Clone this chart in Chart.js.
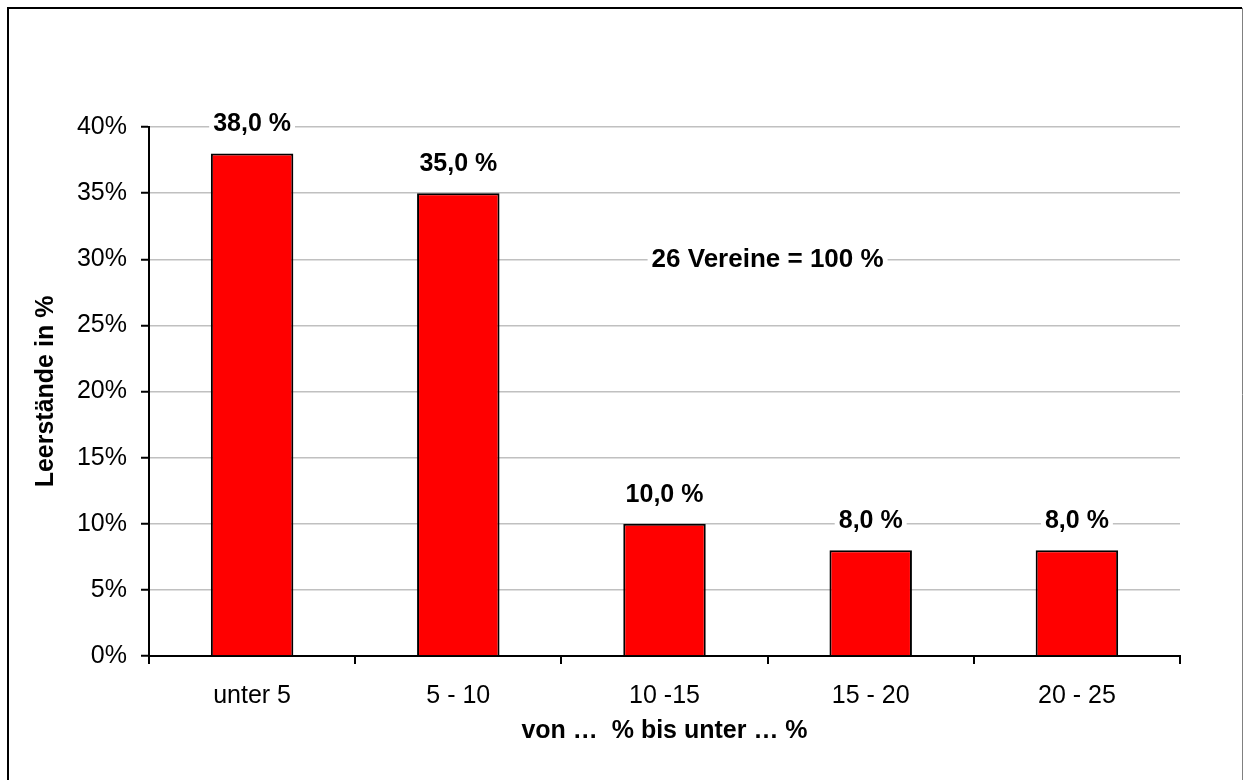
<!DOCTYPE html>
<html>
<head>
<meta charset="utf-8">
<script src="https://cdn.jsdelivr.net/npm/chart.js@4"></script>
<style>
    html, body { margin: 0; padding: 0; background: #fff; }
    #wrap { width: 1243px; height: 780px; }
</style>
</head>
<body>
<div id="wrap"><canvas id="chart" width="1243" height="780"></canvas></div>
<script>
const categories = ["unter 5", "5 - 10", "10 -15", "15 - 20", "20 - 25"]
const shares = [38, 35, 10, 8, 8]
const yTicks = [0, 5, 10, 15, 20, 25, 30, 35, 40]
const note = "26 Vereine = 100 %"
const yTitle = "Leerstände in %"
const xTitle = "von …  % bis unter … %"

const fontFamily = "'Liberation Sans', Arial, sans-serif"
Chart.defaults.color = "#000"
Chart.defaults.font.family = fontFamily

const formatShare = v => v.toFixed(1).replace(".", ",") + " %"

// white box behind a text, so gridlines stop at it
function labelWithBox(ctx, text, x, y) {
    const w = ctx.measureText(text).width
    ctx.fillStyle = "#fff"
    ctx.fillRect(x - w / 2 - 4, y - 11, w + 8, 22)
    ctx.fillStyle = "#000"
    ctx.fillText(text, x, y)
}

const extras = {
    id: "extras",
    afterDatasetsDraw(chart) {
        const ctx = chart.ctx
        const { x, y } = chart.scales
        ctx.save()
        ctx.font = "bold 25px " + fontFamily
        ctx.textAlign = "center"
        ctx.textBaseline = "middle"

        chart.getDatasetMeta(0).data.forEach((bar, i) => {
            labelWithBox(ctx, formatShare(shares[i]), bar.x, bar.y - 29)
        })

        ctx.font = "bold 26px " + fontFamily
        labelWithBox(ctx, note, x.getPixelForValue(2.5), y.getPixelForValue(30) + 1)
        ctx.restore()
    },
    afterDraw(chart) {
        const ctx = chart.ctx
        ctx.save()
        ctx.strokeStyle = "#000"
        ctx.lineWidth = 2
        ctx.beginPath()
        ctx.moveTo(8, 790)
        ctx.lineTo(8, 8)
        ctx.lineTo(1242, 8)
        ctx.stroke()
        ctx.strokeStyle = "#808080"
        ctx.lineWidth = 1
        ctx.beginPath()
        ctx.moveTo(1242.5, 8)
        ctx.lineTo(1242.5, 790)
        ctx.stroke()
        ctx.restore()
    }
}

new Chart(document.querySelector("#chart"), {
    type: "bar",
    data: {
        labels: categories,
        datasets: [{
            data: shares,
            backgroundColor: "#ff0000",
            borderColor: "#000",
            borderWidth: 2,
            barPercentage: 0.4,
            categoryPercentage: 1
        }]
    },
    options: {
        responsive: false,
        animation: false,
        layout: { padding: { left: 0, top: 127, right: 63, bottom: 0 } },
        plugins: {
            legend: { display: false },
            tooltip: { enabled: false }
        },
        scales: {
            x: {
                afterFit: scale => { scale.height = 124 },
                grid: {
                    offset: true,
                    drawOnChartArea: false,
                    tickLength: 8,
                    tickColor: "#000",
                    lineWidth: 2
                },
                border: { color: "#000", width: 2 },
                ticks: { font: { size: 25 }, padding: 17 },
                title: {
                    display: true,
                    text: xTitle,
                    font: { size: 25, weight: "bold" },
                    padding: { top: 0, bottom: 34 }
                }
            },
            y: {
                min: 0,
                max: 40,
                afterFit: scale => { scale.width = 149 },
                afterBuildTicks: scale => { scale.ticks = yTicks.map(v => ({ value: v })) },
                grid: {
                    color: "#c0c0c0",
                    lineWidth: 1.5,
                    tickLength: 8,
                    tickColor: "#000",
                    tickWidth: 2
                },
                border: { color: "#000", width: 2 },
                ticks: {
                    font: { size: 25 },
                    padding: 14,
                    callback: v => v + "%"
                },
                title: {
                    display: true,
                    text: yTitle,
                    font: { size: 25, weight: "bold" },
                    padding: { top: 31, bottom: 0 }
                }
            }
        }
    },
    plugins: [extras]
})
</script>
</body>
</html>
